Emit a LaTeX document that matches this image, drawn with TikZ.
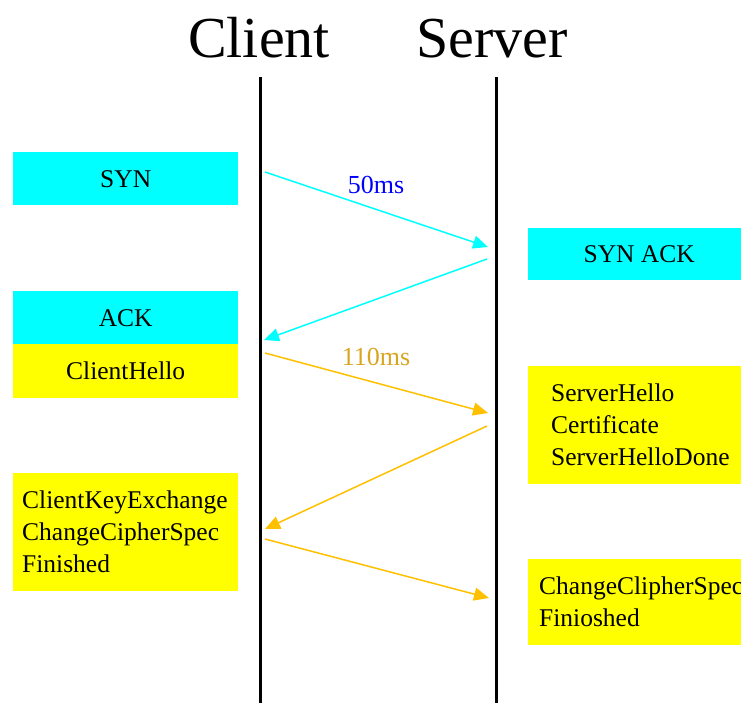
\documentclass[tikz,border=0pt]{standalone}
\usepackage{fontspec}
\setmainfont{Liberation Serif}
\usetikzlibrary{arrows.meta}
\definecolor{boxcyan}{HTML}{00FFFF}
\definecolor{boxyellow}{HTML}{FFFF00}
\definecolor{arrorange}{HTML}{FFC000}
\definecolor{lblgold}{HTML}{D8A520}
\definecolor{lblblue}{HTML}{0000FF}
\begin{document}
\begin{tikzpicture}[x=1pt,y=-1pt,
  boxc/.style={rectangle, inner sep=0pt, anchor=north west, minimum width=225pt,
    align=center, font=\fontsize{25.5}{32}\selectfont},
  boxl/.style={rectangle, inner ysep=0pt, anchor=north west, align=left,
    font=\fontsize{25.5}{32}\selectfont},
  title/.style={anchor=base, font=\fontsize{58}{60}\selectfont},
  lifeline/.style={line width=3pt, black},
  msgc/.style={draw=boxcyan, line width=1.5pt, -{Triangle[length=15pt,width=13pt]}},
  msgo/.style={draw=arrorange, line width=1.5pt, -{Triangle[length=15pt,width=13pt]}},
  lbl/.style={font=\fontsize{26}{28}\selectfont}]
\useasboundingbox (0,0) rectangle (741,702);
\clip (0,0) rectangle (741,702);

% titles
\node[title] (client) at (259,57) {Client};
\node[title] (server) at (492,57) {Server};

% lifelines
\coordinate (ctop) at (260,77);
\coordinate (cbot) at (260,705);
\coordinate (stop) at (496,77);
\coordinate (sbot) at (496,705);
\draw[lifeline] (ctop) -- (cbot);
\draw[lifeline] (stop) -- (sbot);

% boxes
\node[boxc, fill=boxcyan, minimum height=53pt] (syn) at (13,152) {SYN};
\node[boxc, fill=boxcyan, minimum height=53pt] (ack) at (13,291) {ACK};
\node[boxc, fill=boxyellow, minimum height=54pt] (chello) at (13,344) {ClientHello};
\node[boxc, fill=boxcyan, minimum width=222pt, minimum height=52pt] (synack) at (528,228) {SYN ACK};
\node[boxl, fill=boxyellow, minimum height=118pt, inner xsep=23pt, text width=220pt] (shello) at (528,366)
  {ServerHello\\Certificate\\ServerHelloDone};
\node[boxl, fill=boxyellow, minimum height=118pt, inner xsep=9pt, text width=207pt] (ckey) at (13,473)
  {\mbox{ClientKeyExchange}\\\mbox{ChangeCipherSpec}\\Finished};
\node[boxl, fill=boxyellow, minimum height=86pt, inner xsep=11pt, text width=240pt] (sfin) at (528,559)
  {\mbox{ChangeClipherSpec}\\Finioshed};

% message end points
\coordinate (m1s) at (265,172);
\coordinate (m1e) at (488,247);
\coordinate (m2s) at (487,259);
\coordinate (m2e) at (264,340);
\coordinate (m3s) at (265,353);
\coordinate (m3e) at (488,413);
\coordinate (m4s) at (487,426);
\coordinate (m4e) at (265,529);
\coordinate (m5s) at (265,539);
\coordinate (m5e) at (489,598);

\draw[msgc] (m1s) -- (m1e);
\draw[msgc] (m2s) -- (m2e);
\draw[msgo] (m3s) -- (m3e);
\draw[msgo] (m4s) -- (m4e);
\draw[msgo] (m5s) -- (m5e);

% labels
\node[lbl, text=lblblue] (l50) at (376,185) {50ms};
\node[lbl, text=lblgold] (l110) at (376,357) {110ms};
\end{tikzpicture}
\end{document}
